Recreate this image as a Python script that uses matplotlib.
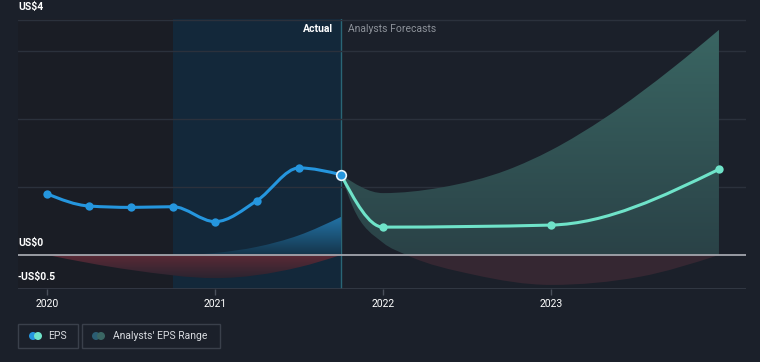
import numpy as np
import matplotlib
matplotlib.use("Agg")
import matplotlib.pyplot as plt
from matplotlib.path import Path
from matplotlib.patches import PathPatch, Rectangle, FancyBboxPatch, Ellipse
from matplotlib.colors import LinearSegmentedColormap

plt.rcParams['font.family'] = ['Roboto', 'DejaVu Sans']

# EPS history (quarterly)
eps_x = [2020.0, 2020.25, 2020.5, 2020.75, 2021.0, 2021.25, 2021.5, 2021.75]
eps_y = [0.90, 0.72, 0.70, 0.71, 0.49, 0.80, 1.28, 1.18]

# analysts' forecast
fc_x = [2021.75, 2022.0, 2023.0, 2024.0]
fc_y = [1.18, 0.41, 0.44, 1.26]

# analysts' EPS range, past
past_hi_x = [2020.0, 2020.75, 2021.0, 2021.25, 2021.5, 2021.75]
past_hi_y = [0.0, 0.0, 0.03, 0.12, 0.29, 0.56]
past_lo_x = [2020.0, 2020.5, 2021.0, 2021.5, 2021.75]
past_lo_y = [0.0, -0.22, -0.34, -0.18, 0.0]

# analysts' EPS range, forecast
rng_hi_x = [2021.75, 2022.0, 2022.34, 2022.74, 2023.0, 2023.33, 2023.73, 2024.0]
rng_hi_y = [1.18, 0.91, 0.99, 1.25, 1.54, 2.03, 2.76, 3.31]
rng_lo_x = [2021.75, 2021.82, 2022.0, 2022.14, 2022.54, 2023.0, 2023.53, 2024.0]
rng_lo_y = [1.18, 0.71, 0.18, 0.0, -0.29, -0.44, -0.32, 0.0]

year_ticks = [2020, 2021, 2022, 2023]

BG = '#1b202a'


def monotone_segments(xs, ys):
    # bezier segments, monotone in x (like d3 curveMonotoneX)
    xs = np.asarray(xs, float)
    ys = np.asarray(ys, float)
    n = len(xs)
    h = np.diff(xs)
    s = np.diff(ys) / h
    t = np.zeros(n)
    for i in range(1, n - 1):
        p = (s[i - 1] * h[i] + s[i] * h[i - 1]) / (h[i - 1] + h[i])
        t[i] = (np.sign(s[i - 1]) + np.sign(s[i])) * min(abs(s[i - 1]), abs(s[i]), 0.5 * abs(p))
    if n > 2:
        t[0] = (3 * s[0] - t[1]) / 2
        t[-1] = (3 * s[-1] - t[-2]) / 2
    else:
        t[0] = t[-1] = s[0]
    segs = []
    for i in range(n - 1):
        dx = h[i] / 3
        segs.append(((xs[i], ys[i]),
                     (xs[i] + dx, ys[i] + dx * t[i]),
                     (xs[i + 1] - dx, ys[i + 1] - dx * t[i + 1]),
                     (xs[i + 1], ys[i + 1])))
    return segs


def curve_path(xs, ys):
    segs = monotone_segments(xs, ys)
    verts = [segs[0][0]]
    codes = [Path.MOVETO]
    for a, b, c, d in segs:
        verts += [b, c, d]
        codes += [Path.CURVE4] * 3
    return Path(verts, codes)


def band_path(hx, hy, lx, ly):
    up = monotone_segments(hx, hy)
    lo = monotone_segments(lx, ly)
    verts = [up[0][0]]
    codes = [Path.MOVETO]
    for a, b, c, d in up:
        verts += [b, c, d]
        codes += [Path.CURVE4] * 3
    verts.append(lo[-1][3])
    codes.append(Path.LINETO)
    for a, b, c, d in reversed(lo):
        verts += [c, b, a]
        codes += [Path.CURVE4] * 3
    verts.append(verts[0])
    codes.append(Path.CLOSEPOLY)
    return Path(verts, codes)


fig = plt.figure(figsize=(7.6, 3.62), dpi=100)
fig.patch.set_facecolor(BG)
ax = fig.add_axes([18 / 760, 1 - 289 / 362, 728 / 760, 270 / 362])
ax.set_facecolor(BG)
x0, x1 = 2019.827, 2024.161
y0, y1 = -0.5, 3.47
ax.set_xlim(x0, x1)
ax.set_ylim(y0, y1)
for sp in ax.spines.values():
    sp.set_visible(False)

# darker left part + highlighted last year of actuals
ax.axvspan(x0, 2020.75, color='#1a1d25', zorder=0, lw=0)
ax.axvspan(2020.75, 2021.75, color='#13283a', zorder=0, lw=0)
ax.axvline(2021.75, color='#2a6676', lw=1, zorder=1)

for g in [1, 2, 3, y1 - 0.01]:
    ax.axhline(g, color='#2b313c', lw=1, zorder=1)
ax.axhline(y0 + 0.005, color='#363c48', lw=1.2, zorder=1)

below = Rectangle((x0, y0), x1 - x0, -y0, transform=ax.transData)
past_band = band_path(past_hi_x, past_hi_y, past_lo_x, past_lo_y)
fc_band = band_path(rng_hi_x, rng_hi_y, rng_lo_x, rng_lo_y)
grad = np.linspace(0, 1, 256).reshape(-1, 1)

# past range: blue gradient above zero, red below
im = ax.imshow(grad, extent=[2020.0, 2021.75, 0, 0.6], origin='lower', aspect='auto',
               cmap=LinearSegmentedColormap.from_list('b', ['#15344a', '#2378ad']), zorder=2)
im.set_clip_path(PathPatch(past_band, transform=ax.transData))
im2 = ax.imshow(grad, extent=[2020.0, 2021.75, -0.36, 0], origin='lower', aspect='auto',
                cmap=LinearSegmentedColormap.from_list('r', ['#2a2430', '#5c2a36']), zorder=2)
im2.set_clip_path(PathPatch(past_band, transform=ax.transData))

# forecast range: teal gradient above zero, dark red below
im3 = ax.imshow(grad, extent=[2021.75, 2024.0, 0, 3.35], origin='lower', aspect='auto',
                cmap=LinearSegmentedColormap.from_list('t', ['#2a4247', '#3a6663']), zorder=2)
im3.set_clip_path(PathPatch(fc_band, transform=ax.transData))
fr = PathPatch(fc_band, facecolor='#352732', edgecolor='none', zorder=2)
ax.add_patch(fr)
fr.set_clip_path(below)

# zero line
ax.axhline(0, color='#a3a6ad', lw=1.3, zorder=3)

# EPS lines
ax.add_patch(PathPatch(curve_path(fc_x, fc_y), facecolor='none', edgecolor='#6fe3c9',
                       lw=2.2, zorder=4, capstyle='round'))
ax.add_patch(PathPatch(curve_path(eps_x, eps_y), facecolor='none', edgecolor='#2596de',
                       lw=2.2, zorder=5, capstyle='round'))
ax.scatter(fc_x[1:], fc_y[1:], s=36, color='#6fe3c9', zorder=6, lw=0)
ax.scatter(eps_x[:-1], eps_y[:-1], s=36, color='#2596de', zorder=6, lw=0)
ax.scatter(eps_x[-1:], eps_y[-1:], s=48, color='#2596de', edgecolor='#e8f4fb', lw=1.2, zorder=7)

# x ticks
ax.set_yticks([])
ax.set_xticks(year_ticks)
ax.set_xticklabels([str(y) for y in year_ticks])
ax.tick_params(axis='x', colors='#4a505b', length=4, width=1, pad=3, labelsize=7.5,
               labelcolor='#ffffff')


def ftext(x, y, s, **kw):
    fig.text(x / 760, 1 - y / 362, s, va='center', **kw)


ftext(18, 7, 'US$4', color='#ffffff', fontsize=7.5, fontweight='bold')
ftext(18, 243, 'US$0', color='#ffffff', fontsize=7.5, fontweight='bold')
ftext(18, 277, '-US$0.5', color='#ffffff', fontsize=7.5, fontweight='bold')
ftext(333, 29, 'Actual', color='#ffffff', fontsize=7.5, ha='right', fontweight='bold')
ftext(348, 29, 'Analysts Forecasts', color='#8d929a', fontsize=7.5)


# legend
def fbox(x, y, w, h):
    fig.patches.append(FancyBboxPatch((x / 760, 1 - (y + h) / 362), w / 760, h / 362,
                                      boxstyle='square,pad=0', transform=fig.transFigure,
                                      facecolor=BG, edgecolor='#3a404b', lw=1))


def fdot(x, y, c):
    fig.patches.append(Ellipse((x / 760, 1 - y / 362), 8 / 760, 8 / 362,
                               transform=fig.transFigure, color=c, lw=0))


fbox(18, 324, 60, 24)
fdot(33, 336, '#2596de')
fdot(38, 336, '#6fe3c9')
ftext(48, 336, 'EPS', color='#d8dbe0', fontsize=7.5)

fbox(82, 324, 138, 24)
fdot(96, 336, '#2b5d73')
fdot(101, 336, '#3a6663')
ftext(113, 336, "Analysts' EPS Range", color='#d8dbe0', fontsize=7.5)

fig.savefig('out.png', dpi=100, facecolor=BG)
